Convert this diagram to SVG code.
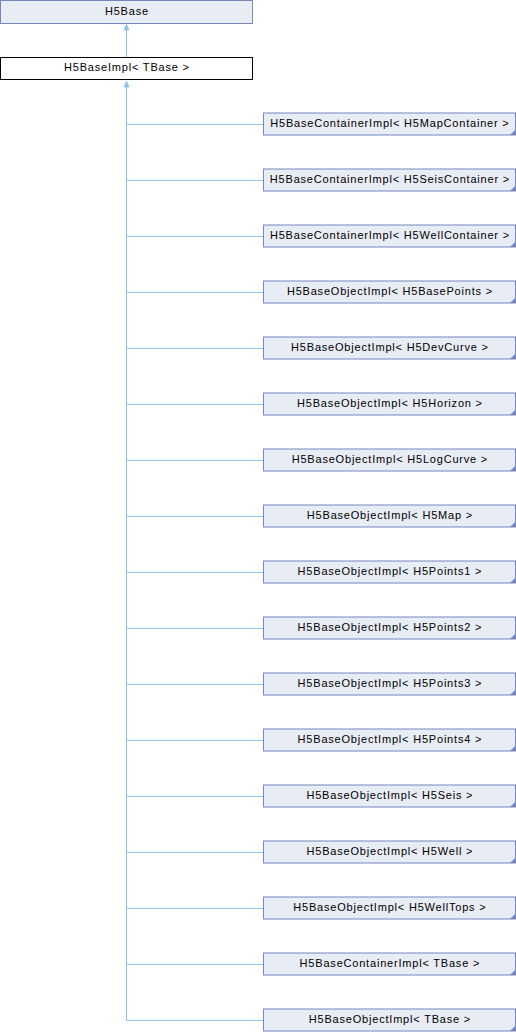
<svg xmlns="http://www.w3.org/2000/svg" width="516" height="1032" viewBox="0 0 516 1032">
<style>
.n{fill:#e8ecf5;stroke:#7587bd;stroke-width:1}
.c{fill:#ffffff;stroke:#000000;stroke-width:1}
.t{font-family:"Liberation Sans",Arial,sans-serif;font-size:11px;letter-spacing:0.8px;fill:#000;text-anchor:middle}
.e{fill:none;stroke:#8fc3ea;stroke-width:1}
.tri{fill:#7587bd}
</style>
<defs>
<marker id="a" markerWidth="10" markerHeight="10" refX="5" refY="0" orient="0" markerUnits="userSpaceOnUse">
<path d="M2.5,6 L5,0.5 L7.5,6 Z" fill="#8fc3ea" stroke="#8fc3ea" stroke-width="0.8"/>
</marker>
</defs>
<rect width="516" height="1032" fill="#fff"/>
<g id="edges">
<path class="e" d="M126.5,57 V24" marker-end="url(#a)"/>
<path class="e" d="M126.5,1020.5 V81" marker-end="url(#a)"/>
<path class="e" d="M126.5,124.5H263 M126.5,180.5H263 M126.5,236.5H263 M126.5,292.5H263 M126.5,348.5H263 M126.5,404.5H263 M126.5,460.5H263 M126.5,516.5H263 M126.5,572.5H263 M126.5,628.5H263 M126.5,684.5H263 M126.5,740.5H263 M126.5,796.5H263 M126.5,852.5H263 M126.5,908.5H263 M126.5,964.5H263 M126.5,1020.5H263"/>
</g>
<g id="H5Base"><rect class="n" x="0.5" y="0.5" width="252" height="23"/><text class="t" x="126.9" y="15">H5Base</text></g>
<g id="H5BaseImpl"><rect class="c" x="0.5" y="57.5" width="252" height="22"/><text class="t" x="126.9" y="70.5">H5BaseImpl&lt; TBase &gt;</text></g>
<g id="n1"><rect class="n" x="263.5" y="113" width="252" height="22"/><path class="tri" d="M515,130 V135 H510 Z"/><text class="t" x="389.9" y="127">H5BaseContainerImpl&lt; H5MapContainer &gt;</text></g>
<g id="n2"><rect class="n" x="263.5" y="169" width="252" height="22"/><path class="tri" d="M515,186 V191 H510 Z"/><text class="t" x="389.9" y="183">H5BaseContainerImpl&lt; H5SeisContainer &gt;</text></g>
<g id="n3"><rect class="n" x="263.5" y="225" width="252" height="22"/><path class="tri" d="M515,242 V247 H510 Z"/><text class="t" x="389.9" y="239">H5BaseContainerImpl&lt; H5WellContainer &gt;</text></g>
<g id="n4"><rect class="n" x="263.5" y="281" width="252" height="22"/><path class="tri" d="M515,298 V303 H510 Z"/><text class="t" x="389.9" y="295">H5BaseObjectImpl&lt; H5BasePoints &gt;</text></g>
<g id="n5"><rect class="n" x="263.5" y="337" width="252" height="22"/><path class="tri" d="M515,354 V359 H510 Z"/><text class="t" x="389.9" y="351">H5BaseObjectImpl&lt; H5DevCurve &gt;</text></g>
<g id="n6"><rect class="n" x="263.5" y="393" width="252" height="22"/><path class="tri" d="M515,410 V415 H510 Z"/><text class="t" x="389.9" y="407">H5BaseObjectImpl&lt; H5Horizon &gt;</text></g>
<g id="n7"><rect class="n" x="263.5" y="449" width="252" height="22"/><path class="tri" d="M515,466 V471 H510 Z"/><text class="t" x="389.9" y="463">H5BaseObjectImpl&lt; H5LogCurve &gt;</text></g>
<g id="n8"><rect class="n" x="263.5" y="505" width="252" height="22"/><path class="tri" d="M515,522 V527 H510 Z"/><text class="t" x="389.9" y="519">H5BaseObjectImpl&lt; H5Map &gt;</text></g>
<g id="n9"><rect class="n" x="263.5" y="561" width="252" height="22"/><path class="tri" d="M515,578 V583 H510 Z"/><text class="t" x="389.9" y="575">H5BaseObjectImpl&lt; H5Points1 &gt;</text></g>
<g id="n10"><rect class="n" x="263.5" y="617" width="252" height="22"/><path class="tri" d="M515,634 V639 H510 Z"/><text class="t" x="389.9" y="631">H5BaseObjectImpl&lt; H5Points2 &gt;</text></g>
<g id="n11"><rect class="n" x="263.5" y="673" width="252" height="22"/><path class="tri" d="M515,690 V695 H510 Z"/><text class="t" x="389.9" y="687">H5BaseObjectImpl&lt; H5Points3 &gt;</text></g>
<g id="n12"><rect class="n" x="263.5" y="729" width="252" height="22"/><path class="tri" d="M515,746 V751 H510 Z"/><text class="t" x="389.9" y="743">H5BaseObjectImpl&lt; H5Points4 &gt;</text></g>
<g id="n13"><rect class="n" x="263.5" y="785" width="252" height="22"/><path class="tri" d="M515,802 V807 H510 Z"/><text class="t" x="389.9" y="799">H5BaseObjectImpl&lt; H5Seis &gt;</text></g>
<g id="n14"><rect class="n" x="263.5" y="841" width="252" height="22"/><path class="tri" d="M515,858 V863 H510 Z"/><text class="t" x="389.9" y="855">H5BaseObjectImpl&lt; H5Well &gt;</text></g>
<g id="n15"><rect class="n" x="263.5" y="897" width="252" height="22"/><path class="tri" d="M515,914 V919 H510 Z"/><text class="t" x="389.9" y="911">H5BaseObjectImpl&lt; H5WellTops &gt;</text></g>
<g id="n16"><rect class="n" x="263.5" y="953" width="252" height="22"/><path class="tri" d="M515,970 V975 H510 Z"/><text class="t" x="389.9" y="967">H5BaseContainerImpl&lt; TBase &gt;</text></g>
<g id="n17"><rect class="n" x="263.5" y="1009" width="252" height="22"/><path class="tri" d="M515,1026 V1031 H510 Z"/><text class="t" x="389.9" y="1023">H5BaseObjectImpl&lt; TBase &gt;</text></g>
</svg>
